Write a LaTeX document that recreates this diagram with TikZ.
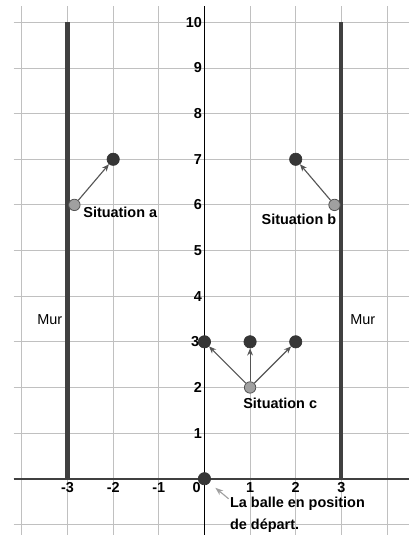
\documentclass[tikz,border=0pt]{standalone}
\usepackage{fontspec}
\setmainfont{Liberation Sans}
\usetikzlibrary{arrows.meta}
\definecolor{gridgray}{HTML}{C0C0C0}
\definecolor{wallgray}{HTML}{404040}
\definecolor{darkpt}{HTML}{363636}
\definecolor{lightpt}{HTML}{A0A0A0}
\definecolor{arrowgray}{HTML}{555555}
\definecolor{ptrgray}{HTML}{A0A0A0}
\begin{document}
\begin{tikzpicture}[x=1cm,y=1cm,
  gridline/.style={gridgray, line width=0.6pt},
  wall/.style={wallgray, line width=2.6pt},
  darkdot/.style={circle, fill=darkpt, draw=black!80, line width=0.4pt, minimum size=0.27cm, inner sep=0pt},
  lightdot/.style={circle, fill=lightpt, draw=arrowgray, line width=0.5pt, minimum size=0.25cm, inner sep=0pt},
  move/.style={arrowgray, line width=0.7pt, -{Stealth[length=4.5pt,width=3.6pt]}},
  ptr/.style={ptrgray, line width=0.7pt, -{Stealth[length=5pt,width=3.6pt]}, shorten >=4.8pt},
  lab/.style={font=\fontsize{9}{11}\selectfont\bfseries, inner sep=0pt},
  mur/.style={font=\fontsize{9}{11}\selectfont, inner sep=0pt}]
\useasboundingbox (-4.48,-1.233) rectangle (4.475,10.49);
\fill[white] (-4.48,-1.233) rectangle (4.475,10.49);
% grid
\foreach \y in {-1,...,10} \draw[gridline] (-4.18,\y) -- (4.475,\y);
\foreach \x in {-4,...,4} \draw[gridline] (\x,-1.233) -- (\x,10.36);
% axes
\draw[wallgray, line width=1.3pt] (-4.18,0) -- (4.475,0);
\draw[black, line width=0.8pt] (0,-1.233) -- (0,10.36);
% walls
\draw[wall] (-3,0) -- (-3,10);
\draw[wall] (3,0) -- (3,10);
% Mur
\node[mur] (murL) at (-3.39,3.48) {Mur};
\node[mur] (murR) at (3.47,3.48) {Mur};
% points
\node[darkdot] (O) at (0,0) {};
\node[lightdot] (a0) at (-2.85,6) {};
\node[darkdot] (a1) at (-2,7) {};
\node[lightdot] (b0) at (2.85,6) {};
\node[darkdot] (b1) at (2,7) {};
\node[lightdot] (c0) at (1,2) {};
\node[darkdot] (c1) at (0,3) {};
\node[darkdot] (c2) at (1,3) {};
\node[darkdot] (c3) at (2,3) {};
% axis labels
\foreach \x in {-3,-2,-1,1,2,3} \node[lab] at (\x,-0.2) {\x};
\node[lab] at (-0.17,-0.2) {0};
\foreach \y in {1,2,4,5,6,7,8,9,10} \node[lab, anchor=east] at (-0.05,\y) {\y};
\node[lab, anchor=east] at (-0.11,3) {3};
% moves
\draw[move] (a0) -- (a1);
\draw[move] (b0) -- (b1);
\draw[move] (c0) -- (c1);
\draw[move] (c0) -- (c2);
\draw[move] (c0) -- (c3);
% labels
\node[lab, anchor=west] (la) at (-2.66,5.84) {Situation a};
\node[lab] (lb) at (2.07,5.69) {Situation b};
\node[lab] (lc) at (1.66,1.65) {Situation c};
\node[lab, anchor=west] (start1) at (0.555,-0.54) {La balle en position};
\node[lab, anchor=west] (start2) at (0.555,-1.04) {de départ.};
\coordinate (tail) at (0.53,-0.44);
\draw[ptr] (tail) -- (O);
\end{tikzpicture}
\end{document}
